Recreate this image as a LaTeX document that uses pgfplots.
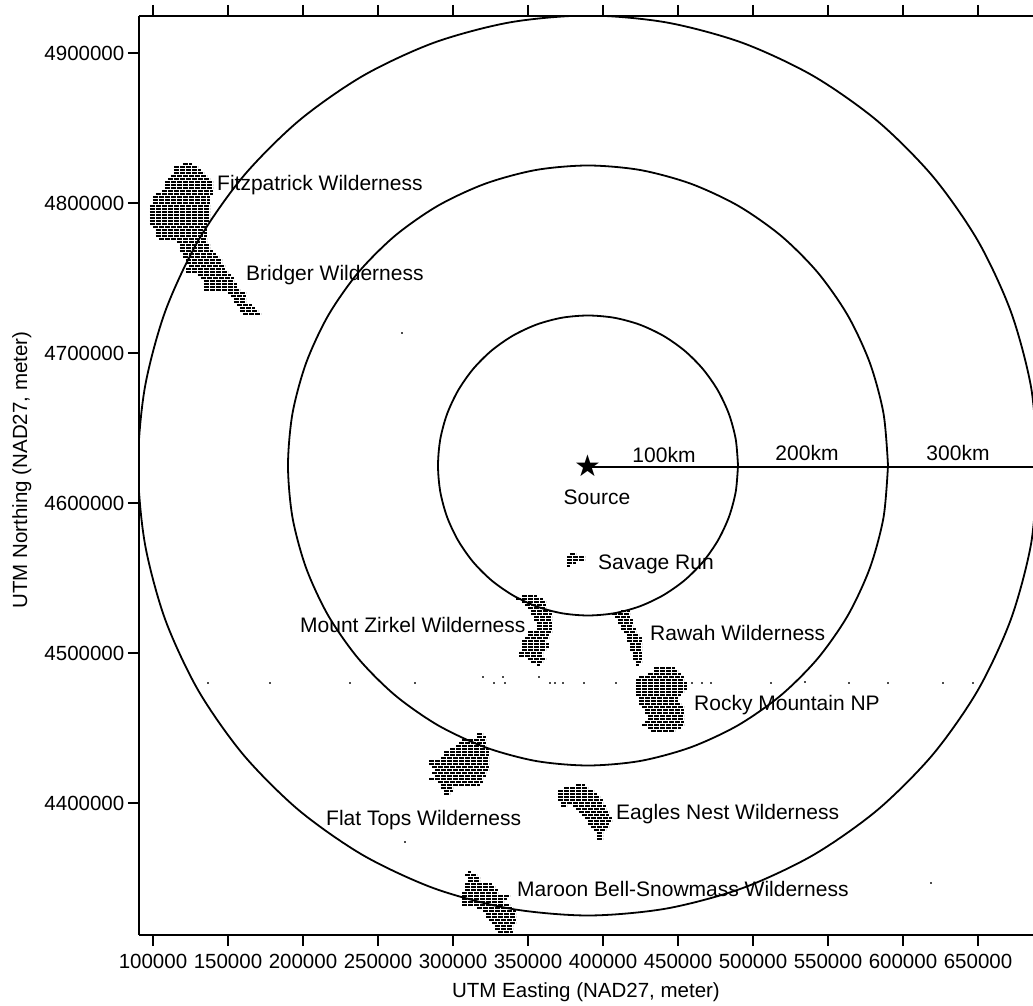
\documentclass[border=0pt]{standalone}
\usepackage{fontspec}
\setmainfont{Liberation Sans}
\newfontfamily\symb{DejaVu Sans}
\usepackage{pgfplots}
\pgfplotsset{compat=1.18}
\newcommand\lab{\fontsize{20.5pt}{24pt}\selectfont}
\newcommand\nam{\fontsize{21pt}{24pt}\selectfont}
\pgfplotsset{
  ring/.style={black,line width=1.8pt,smooth},
  area/.style={black,line width=2.6pt,line cap=butt,dash pattern=on 5.3pt off 0.7pt},
}
\begin{document}
\begin{tikzpicture}
\useasboundingbox (-139pt,-71pt) rectangle (894pt,935pt);
\begin{axis}[
  scale only axis,width=894pt,height=919pt,
  xmin=90667,xmax=686667,ymin=4312000,ymax=4924667,
  axis x line=box,axis y line=left,axis line style={-,line width=1.2pt},
  tick align=outside,major tick length=11pt,tick style={black,line width=1.1pt},
  xtick={100000,150000,...,650000},
  ytick={4400000,4500000,4600000,4700000,4800000,4900000},
  scaled ticks=false,
  xticklabel pos=bottom,
  /pgf/number format/.cd,fixed,1000 sep={},assume math mode=true,/pgfplots/.cd,
  tick label style={font=\lab},
  xticklabel style={inner sep=1pt,yshift=-7pt},
  yticklabel style={inner sep=1pt,xshift=-2.5pt},
  xlabel={UTM Easting (NAD27, meter)},
  ylabel={UTM Northing (NAD27, meter)},
  every axis x label/.style={at={(axis description cs:0.5,-0.062)},anchor=center,font=\lab},
  every axis y label/.style={at={(axis description cs:-0.131,0.506)},rotate=90,anchor=center,font=\lab},
  unbounded coords=jump,
]
% range rings, 100/200/300 km round the source
\addplot[ring] coordinates {(490000,4625000)(488500,4642400)(484000,4659200)(476600,4675000)(466600,4689300)(454300,4701600)(440000,4711600)(424200,4719000)(407400,4723500)(390000,4725000)(372600,4723500)(355800,4719000)(340000,4711600)(325700,4701600)(313400,4689300)(303400,4675000)(296000,4659200)(291500,4642400)(290000,4625000)(291500,4607600)(296000,4590800)(303400,4575000)(313400,4560700)(325700,4548400)(340000,4538400)(355800,4531000)(372600,4526500)(390000,4525000)(407400,4526500)(424200,4531000)(440000,4538400)(454300,4548400)(466600,4560700)(476600,4575000)(484000,4590800)(488500,4607600)(490000,4625000)};
\addplot[ring] coordinates {(590000,4625000)(587000,4659700)(577900,4693400)(563200,4725000)(543200,4753600)(518600,4778200)(490000,4798200)(458400,4812900)(424700,4822000)(390000,4825000)(355300,4822000)(321600,4812900)(290000,4798200)(261400,4778200)(236800,4753600)(216800,4725000)(202100,4693400)(193000,4659700)(190000,4625000)(193000,4590300)(202100,4556600)(216800,4525000)(236800,4496400)(261400,4471800)(290000,4451800)(321600,4437100)(355300,4428000)(390000,4425000)(424700,4428000)(458400,4437100)(490000,4451800)(518600,4471800)(543200,4496400)(563200,4525000)(577900,4556600)(587000,4590300)(590000,4625000)};
\addplot[ring] coordinates {(690000,4625000)(685400,4677100)(671900,4727600)(649800,4775000)(619800,4817800)(582800,4854800)(540000,4884800)(492600,4906900)(442100,4920400)(390000,4925000)(337900,4920400)(287400,4906900)(240000,4884800)(197200,4854800)(160200,4817800)(130200,4775000)(108100,4727600)(94600,4677100)(90000,4625000)(94600,4572900)(108100,4522400)(130200,4475000)(160200,4432200)(197200,4395200)(240000,4365200)(287400,4343100)(337900,4329600)(390000,4325000)(442100,4329600)(492600,4343100)(540000,4365200)(582800,4395200)(619800,4432200)(649800,4475000)(671900,4522400)(685400,4572900)(690000,4625000)};
% radial line
\addplot[black,line width=1.5pt] coordinates {(390000,4624000)(687000,4624000)};
% Fitzpatrick + Bridger, grid rows
\addplot[area] coordinates {
(120000,4826000)(126000,4826000)(0,nan)
(114000,4824000)(130000,4824000)(0,nan)
(114000,4822000)(132000,4822000)(0,nan)
(114000,4820000)(134000,4820000)(0,nan)
(112000,4818000)(136000,4818000)(0,nan)
(110000,4816000)(138000,4816000)(0,nan)
(108000,4814000)(140000,4814000)(0,nan)
(108000,4812000)(140000,4812000)(0,nan)
(108000,4810000)(140000,4810000)(0,nan)
(106000,4808000)(140000,4808000)(0,nan)
(102000,4806000)(140000,4806000)(0,nan)
(100000,4804000)(138000,4804000)(0,nan)
(100000,4802000)(138000,4802000)(0,nan)
(100000,4800000)(138000,4800000)(0,nan)
(98000,4798000)(138000,4798000)(0,nan)
(98000,4796000)(138000,4796000)(0,nan)
(98000,4794000)(138000,4794000)(0,nan)
(98000,4792000)(138000,4792000)(0,nan)
(98000,4790000)(138000,4790000)(0,nan)
(98000,4788000)(138000,4788000)(0,nan)
(98000,4786000)(136000,4786000)(0,nan)
(100000,4784000)(136000,4784000)(0,nan)
(102000,4782000)(136000,4782000)(0,nan)
(102000,4780000)(136000,4780000)(0,nan)
(102000,4778000)(136000,4778000)(0,nan)
(104000,4776000)(136000,4776000)(0,nan)
(116000,4774000)(136000,4774000)(0,nan)
(118000,4772000)(138000,4772000)(0,nan)
(118000,4770000)(138000,4770000)(0,nan)
(118000,4768000)(140000,4768000)(0,nan)
(120000,4766000)(142000,4766000)(0,nan)
(120000,4764000)(144000,4764000)(0,nan)
(122000,4762000)(146000,4762000)(0,nan)
(122000,4760000)(146000,4760000)(0,nan)
(124000,4758000)(148000,4758000)(0,nan)
(122000,4756000)(148000,4756000)(0,nan)
(122000,4754000)(150000,4754000)(0,nan)
(130000,4752000)(152000,4752000)(0,nan)
(132000,4750000)(154000,4750000)(0,nan)
(134000,4748000)(154000,4748000)(0,nan)
(134000,4746000)(156000,4746000)(0,nan)
(134000,4744000)(156000,4744000)(0,nan)
(134000,4742000)(158000,4742000)(0,nan)
(150000,4740000)(162000,4740000)(0,nan)
(152000,4738000)(162000,4738000)(0,nan)
(154000,4736000)(162000,4736000)(0,nan)
(154000,4734000)(162000,4734000)(0,nan)
(156000,4732000)(166000,4732000)(0,nan)
(158000,4730000)(168000,4730000)(0,nan)
(158000,4728000)(170000,4728000)(0,nan)
(160000,4726000)(172000,4726000)
};
% Mount Zirkel
\addplot[area] coordinates {
(346000,4538000)(356000,4538000)(0,nan)
(342000,4536000)(360000,4536000)(0,nan)
(346000,4534000)(362000,4534000)(0,nan)
(348000,4532000)(362000,4532000)(0,nan)
(350000,4530000)(362000,4530000)(0,nan)
(352000,4528000)(366000,4528000)(0,nan)
(352000,4526000)(366000,4526000)(0,nan)
(354000,4524000)(366000,4524000)(0,nan)
(354000,4522000)(366000,4522000)(0,nan)
(356000,4520000)(366000,4520000)(0,nan)
(356000,4518000)(366000,4518000)(0,nan)
(356000,4516000)(366000,4516000)(0,nan)
(350000,4514000)(366000,4514000)(0,nan)
(350000,4512000)(364000,4512000)(0,nan)
(348000,4510000)(364000,4510000)(0,nan)
(346000,4508000)(362000,4508000)(0,nan)
(346000,4506000)(364000,4506000)(0,nan)
(346000,4504000)(364000,4504000)(0,nan)
(346000,4502000)(362000,4502000)(0,nan)
(344000,4500000)(360000,4500000)(0,nan)
(344000,4498000)(360000,4498000)(0,nan)
(350000,4496000)(362000,4496000)(0,nan)
(352000,4494000)(360000,4494000)(0,nan)
(356000,4492000)(358000,4492000)
};
% Rawah
\addplot[area] coordinates {
(412000,4528000)(418000,4528000)(0,nan)
(406000,4526000)(418000,4526000)(0,nan)
(408000,4524000)(418000,4524000)(0,nan)
(410000,4522000)(420000,4522000)(0,nan)
(410000,4520000)(420000,4520000)(0,nan)
(412000,4518000)(420000,4518000)(0,nan)
(412000,4516000)(422000,4516000)(0,nan)
(414000,4514000)(422000,4514000)(0,nan)
(416000,4512000)(424000,4512000)(0,nan)
(416000,4510000)(426000,4510000)(0,nan)
(416000,4508000)(426000,4508000)(0,nan)
(418000,4506000)(426000,4506000)(0,nan)
(418000,4504000)(426000,4504000)(0,nan)
(418000,4502000)(426000,4502000)(0,nan)
(420000,4500000)(426000,4500000)(0,nan)
(420000,4498000)(426000,4498000)(0,nan)
(420000,4496000)(426000,4496000)(0,nan)
(422000,4494000)(426000,4494000)(0,nan)
(422000,4492000)(424000,4492000)
};
% Rocky Mountain NP
\addplot[area] coordinates {
(434000,4490000)(448000,4490000)(0,nan)
(434000,4488000)(450000,4488000)(0,nan)
(430000,4486000)(452000,4486000)(0,nan)
(424000,4484000)(454000,4484000)(0,nan)
(422000,4482000)(454000,4482000)(0,nan)
(422000,4480000)(456000,4480000)(0,nan)
(422000,4478000)(456000,4478000)(0,nan)
(422000,4476000)(456000,4476000)(0,nan)
(422000,4474000)(454000,4474000)(0,nan)
(422000,4472000)(452000,4472000)(0,nan)
(424000,4470000)(450000,4470000)(0,nan)
(424000,4468000)(450000,4468000)(0,nan)
(424000,4466000)(452000,4466000)(0,nan)
(426000,4464000)(454000,4464000)(0,nan)
(428000,4462000)(454000,4462000)(0,nan)
(428000,4460000)(454000,4460000)(0,nan)
(430000,4458000)(454000,4458000)(0,nan)
(430000,4456000)(454000,4456000)(0,nan)
(428000,4454000)(454000,4454000)(0,nan)
(426000,4452000)(454000,4452000)(0,nan)
(430000,4450000)(452000,4450000)(0,nan)
(432000,4448000)(448000,4448000)
};
% Flat Tops
\addplot[area] coordinates {
(316000,4446000)(320000,4446000)(0,nan)
(316000,4444000)(322000,4444000)(0,nan)
(306000,4442000)(322000,4442000)(0,nan)
(304000,4440000)(322000,4440000)(0,nan)
(302000,4438000)(322000,4438000)(0,nan)
(298000,4436000)(324000,4436000)(0,nan)
(294000,4434000)(324000,4434000)(0,nan)
(294000,4432000)(324000,4432000)(0,nan)
(292000,4430000)(324000,4430000)(0,nan)
(284000,4428000)(324000,4428000)(0,nan)
(284000,4426000)(324000,4426000)(0,nan)
(286000,4424000)(324000,4424000)(0,nan)
(288000,4422000)(324000,4422000)(0,nan)
(286000,4420000)(322000,4420000)(0,nan)
(288000,4418000)(322000,4418000)(0,nan)
(284000,4416000)(320000,4416000)(0,nan)
(290000,4414000)(320000,4414000)(0,nan)
(292000,4412000)(318000,4412000)(0,nan)
(292000,4410000)(300000,4410000)(0,nan)
(294000,4408000)(300000,4408000)(0,nan)
(294000,4406000)(298000,4406000)
};
% Eagles Nest
\addplot[area] coordinates {
(382000,4412000)(388000,4412000)(0,nan)
(374000,4410000)(390000,4410000)(0,nan)
(370000,4408000)(394000,4408000)(0,nan)
(370000,4406000)(396000,4406000)(0,nan)
(370000,4404000)(398000,4404000)(0,nan)
(370000,4402000)(400000,4402000)(0,nan)
(372000,4400000)(400000,4400000)(0,nan)
(372000,4398000)(376000,4398000)(0,nan)
(380000,4398000)(402000,4398000)(0,nan)
(382000,4396000)(402000,4396000)(0,nan)
(384000,4394000)(404000,4394000)(0,nan)
(386000,4392000)(404000,4392000)(0,nan)
(388000,4390000)(406000,4390000)(0,nan)
(390000,4388000)(406000,4388000)(0,nan)
(390000,4386000)(404000,4386000)(0,nan)
(392000,4384000)(404000,4384000)(0,nan)
(394000,4382000)(402000,4382000)(0,nan)
(396000,4380000)(400000,4380000)(0,nan)
(396000,4378000)(400000,4378000)(0,nan)
(396000,4376000)(400000,4376000)
};
% Maroon Bell-Snowmass
\addplot[area] coordinates {
(310000,4354000)(312000,4354000)(0,nan)
(308000,4352000)(316000,4352000)(0,nan)
(310000,4350000)(318000,4350000)(0,nan)
(310000,4348000)(318000,4348000)(0,nan)
(308000,4346000)(326000,4346000)(0,nan)
(308000,4344000)(328000,4344000)(0,nan)
(308000,4342000)(330000,4342000)(0,nan)
(306000,4340000)(330000,4340000)(0,nan)
(306000,4338000)(338000,4338000)(0,nan)
(306000,4336000)(336000,4336000)(0,nan)
(306000,4334000)(334000,4334000)(0,nan)
(306000,4332000)(338000,4332000)(0,nan)
(316000,4330000)(340000,4330000)(0,nan)
(320000,4328000)(342000,4328000)(0,nan)
(322000,4326000)(342000,4326000)(0,nan)
(322000,4324000)(342000,4324000)(0,nan)
(324000,4322000)(342000,4322000)(0,nan)
(326000,4320000)(342000,4320000)(0,nan)
(328000,4318000)(340000,4318000)(0,nan)
(328000,4316000)(340000,4316000)(0,nan)
(330000,4314000)(340000,4314000)
};
% Savage Run
\addplot[area] coordinates {
(378000,4566000)(382000,4566000)(0,nan)
(376000,4564000)(388000,4564000)(0,nan)
(376000,4562000)(388000,4562000)(0,nan)
(376000,4560000)(382000,4560000)(0,nan)
(376000,4558000)(378000,4558000)
};
% stray specks
\addplot[only marks,mark=square*,mark size=0.5pt,black!70] coordinates {
(320100,4483900)(326800,4480500)(333400,4483900)(334700,4480500)(357400,4483900)(364700,4480500)(368000,4480500)(373300,4480500)(387300,4480500)(408600,4480500)(459100,4480500)(465800,4480500)(471700,4480500)(136600,4480500)(177800,4480500)(231000,4480500)(274200,4480500)(511600,4480500)(534200,4481000)(563500,4480500)(590100,4480500)(626700,4480500)(646600,4480500)(265600,4713600)(267600,4374000)(618700,4346700)
};
% source
\addplot[only marks,mark=text,text mark={\symb\fontsize{30pt}{30pt}\selectfont ★},text mark as node=true] coordinates {(390000,4625000)};
\begin{scope}[font=\nam,inner sep=0pt,text height=15pt,text depth=0pt]
\node[anchor=west] at (axis cs:142667,4813333) {Fitzpatrick Wilderness};
\node[anchor=west] at (axis cs:162000,4753333) {Bridger Wilderness};
\node at (axis cs:440667,4632000) {100km};
\node at (axis cs:536000,4633333) {200km};
\node at (axis cs:636667,4633333) {300km};
\node at (axis cs:396000,4604000) {Source};
\node[anchor=west] at (axis cs:396667,4560667) {Savage Run};
\node[anchor=west] at (axis cs:198000,4518667) {Mount Zirkel Wilderness};
\node[anchor=west] at (axis cs:431333,4513333) {Rawah Wilderness};
\node[anchor=west] at (axis cs:460667,4466667) {Rocky Mountain NP};
\node[anchor=west] at (axis cs:215333,4390000) {Flat Tops Wilderness};
\node[anchor=west] at (axis cs:408667,4394000) {Eagles Nest Wilderness};
\node[anchor=west] at (axis cs:342667,4342667) {Maroon Bell-Snowmass Wilderness};
\end{scope}
\end{axis}
\end{tikzpicture}
\end{document}
